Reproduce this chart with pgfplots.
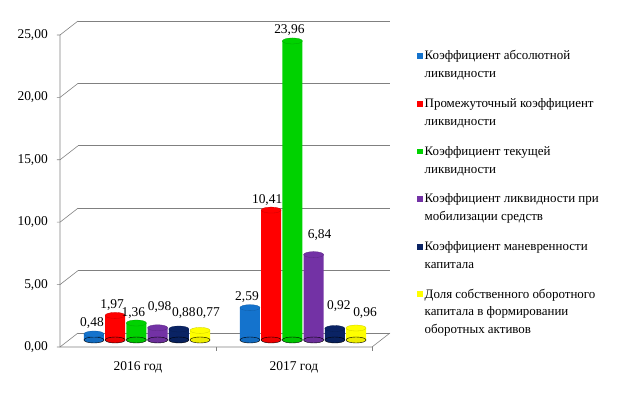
\documentclass[border=0pt]{standalone}
\usepackage{pgfplots}
\pgfplotsset{compat=1.18}
\usepackage{pgfplotstable}
\usepackage{fontspec}
\setmainfont{Liberation Serif}

\definecolor{cblue}{RGB}{20,115,205}
\definecolor{cred}{RGB}{255,0,0}
\definecolor{cgreen}{RGB}{0,210,0}
\definecolor{cpurple}{RGB}{115,50,165}
\definecolor{cnavy}{RGB}{10,35,100}
\definecolor{cyellow}{RGB}{255,255,0}
\colorlet{gridc}{black!50}

% x = group position (0 = 2016, 1 = 2017) + series offset; dx,dy = label offsets (bp)
\pgfplotstableread{
x y dx dy
-0.340 0.48 -2 11
0.660 2.59 -3 11
}\sA
\pgfplotstableread{
x y dx dy
-0.204 1.97 -3 10
0.796 10.41 -4 10
}\sB
\pgfplotstableread{
x y dx dy
-0.068 1.36 -3 10
0.932 23.96 -3 11
}\sC
\pgfplotstableread{
x y dx dy
0.068 0.98 2 21
1.068 6.84 6 20
}\sD
\pgfplotstableread{
x y dx dy
0.204 0.88 5 16
1.204 0.92 4 22
}\sE
\pgfplotstableread{
x y dx dy
0.340 0.77 8 17
1.340 0.96 9 15
}\sF

\newcommand{\cylseries}[2]{%
  \addplot[forget plot, only marks, mark=*, mark size=10bp,
    mark options={yscale=0.3, draw=none, fill=#2!93!black}]
    table[x=x, y expr=0] {#1};
  \addplot[forget plot, ybar, bar width=20bp, bar shift=0pt, draw=none, fill=#2]
    table[x=x, y=y] {#1};
  \addplot[forget plot, only marks, mark=*, mark size=10bp,
    mark options={yscale=0.3, draw=#2!80!black, line width=0.3bp, fill=#2},
    visualization depends on={\thisrow{dx} \as \ldx},
    visualization depends on={\thisrow{dy} \as \ldy},
    nodes near coords={\pgfmathprintnumber[fixed,fixed zerofill,precision=2,use comma]{\pgfplotspointmeta}},
    nodes near coords style={anchor=center, inner sep=0pt, xshift=\ldx bp, yshift=\ldy bp,
      font=\fontsize{13.5}{16}\selectfont, text=black}]
    table[x=x, y=y] {#1};
}

\newcommand{\legsq}[1]{\addlegendimage{legend image code/.code={\fill[#1] (0bp,1.6bp) rectangle (5.2bp,6.4bp);}}}

\begin{document}
\begin{tikzpicture}
\begin{axis}[
  at={(69bp,54bp)}, anchor=south west,
  scale only axis, width=312bp, height=312bp,
  xmin=-0.5, xmax=1.5, ymin=0, ymax=25,
  clip=false,
  axis line style={draw=none}, tick style={draw=none},
  xtick={0,1}, xticklabels={2016 год, 2017 год},
  ytick={0,5,10,15,20,25},
  ymajorgrids,
  major grid style={gridc, line width=0.6bp, xshift=9bp, yshift=7bp},
  /pgf/number format/assume math mode=true,
  yticklabel={\pgfmathprintnumber[fixed,fixed zerofill,precision=2,use comma]{\tick}},
  yticklabel style={anchor=east, inner sep=0pt, xshift=-21bp, yshift=-7bp},
  xticklabel style={anchor=center, inner sep=0pt, xshift=-9bp, yshift=-27bp},
  tick label style={font=\fontsize{13.5}{16}\selectfont},
  legend style={at={(axis description cs:1.115,0.945)}, anchor=north west,
    draw=none, fill=none, inner sep=0pt,
    font=\fontsize{13}{18}\selectfont,
    cells={anchor=base west}, row sep=29.6bp,
    /tikz/every even column/.append style={column sep=1bp}},
]
\pgfplotsinvokeforeach{0,5,10,15,20,25}{
  \draw[gridc, line width=0.6bp] ([shift={(-12bp,-7bp)}]axis cs:-0.5,#1) -- ([shift={(-9bp,-7bp)}]axis cs:-0.5,#1) -- ([shift={(9bp,7bp)}]axis cs:-0.5,#1);
}
\draw[gridc, line width=0.6bp] ([shift={(-9bp,-7bp)}]axis cs:-0.5,25) -- ([shift={(-9bp,-7bp)}]axis cs:-0.5,0)
  -- ([shift={(-9bp,-7bp)}]axis cs:1.5,0) -- ([shift={(9bp,7bp)}]axis cs:1.5,0);
\draw[gridc, line width=0.6bp] ([shift={(-9bp,-7bp)}]axis cs:0.5,0) -- ([shift={(-9bp,-11bp)}]axis cs:0.5,0);
\draw[gridc, line width=0.6bp] ([shift={(-9bp,-7bp)}]axis cs:1.5,0) -- ([shift={(-9bp,-11bp)}]axis cs:1.5,0);

\cylseries{\sA}{cblue}
\cylseries{\sB}{cred}
\cylseries{\sC}{cgreen}
\cylseries{\sD}{cpurple}
\cylseries{\sE}{cnavy}
\cylseries{\sF}{cyellow}

\legsq{cblue}\addlegendentry{\begin{tabular}[t]{@{}l@{}}Коэффициент абсолютной\\ликвидности\end{tabular}}
\legsq{cred}\addlegendentry{\begin{tabular}[t]{@{}l@{}}Промежуточный коэффициент\\ликвидности\end{tabular}}
\legsq{cgreen}\addlegendentry{\begin{tabular}[t]{@{}l@{}}Коэффициент текущей\\ликвидности\end{tabular}}
\legsq{cpurple}\addlegendentry{\begin{tabular}[t]{@{}l@{}}Коэффициент ликвидности при\\мобилизации средств\end{tabular}}
\legsq{cnavy}\addlegendentry{\begin{tabular}[t]{@{}l@{}}Коэффициент маневренности\\капитала\end{tabular}}
\legsq{cyellow}\addlegendentry{\begin{tabular}[t]{@{}l@{}}Доля собственного оборотного\\капитала в формировании\\оборотных активов\end{tabular}}
\end{axis}
\pgfresetboundingbox
\useasboundingbox (0,0) rectangle (618bp,394bp);
\end{tikzpicture}
\end{document}
